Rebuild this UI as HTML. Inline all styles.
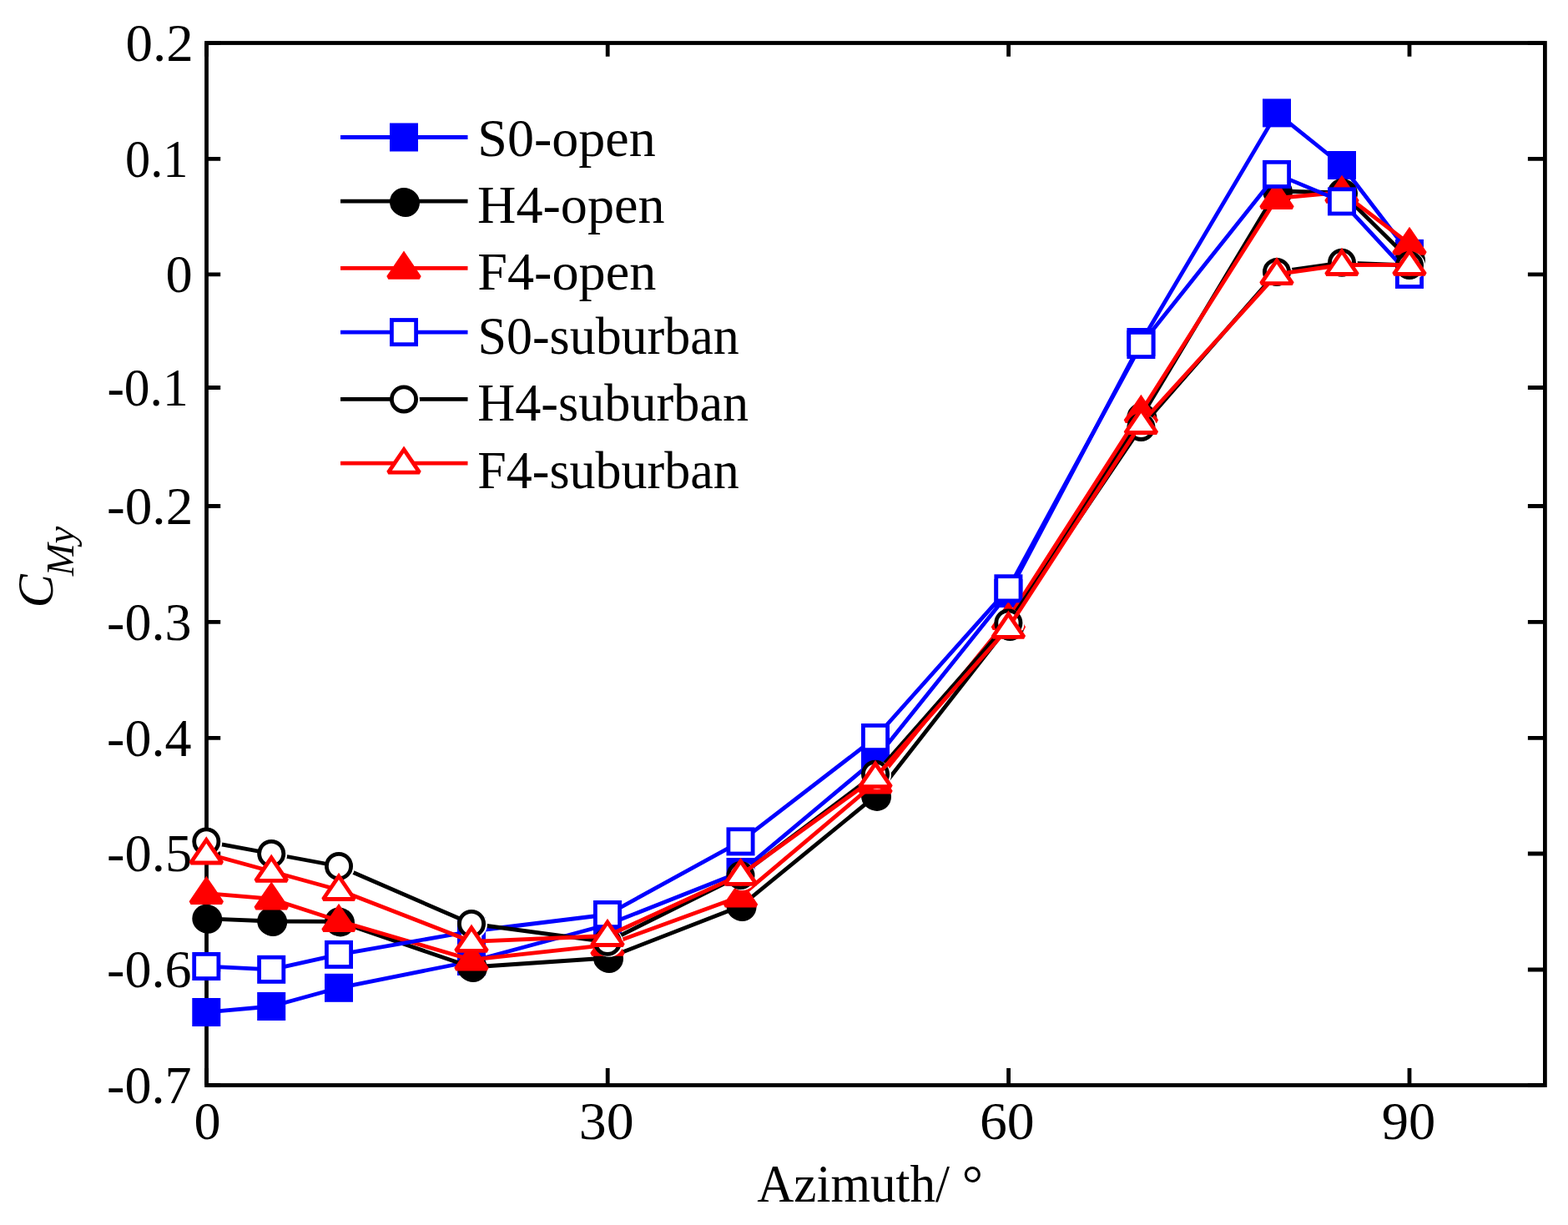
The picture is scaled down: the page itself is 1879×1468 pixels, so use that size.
<!DOCTYPE html>
<html><head><meta charset="utf-8"><title>C_My vs Azimuth</title>
<style>
html,body{margin:0;padding:0;background:#fff;}
svg{display:block;}
text{font-family:"Liberation Serif","Times New Roman",serif;fill:#000;font-kerning:none;}
</style></head><body>
<svg width="1879" height="1468" viewBox="0 0 1879 1468">
<rect x="0" y="0" width="1879" height="1468" fill="#fff"/>

<rect x="247.5" y="51.5" width="1603.90" height="1249.00" fill="none" stroke="#000" stroke-width="4.8" stroke-linejoin="miter"/>
<path d="M247.5 51.5H264.2M1851.4 51.5H1830.9M247.5 190.4H264.2M1851.4 190.4H1830.9M247.5 328.9H264.2M1851.4 328.9H1830.9M247.5 464.5H264.2M1851.4 464.5H1830.9M247.5 606.5H264.2M1851.4 606.5H1830.9M247.5 745.4H264.2M1851.4 745.4H1830.9M247.5 884.4H264.2M1851.4 884.4H1830.9M247.5 1023H264.2M1851.4 1023H1830.9M247.5 1162H264.2M1851.4 1162H1830.9M247.5 1300.5H264.2M1851.4 1300.5H1830.9M247.5 1300.5V1280M247.5 51.5V67.8M728.2 1300.5V1280M728.2 51.5V67.8M1208.6 1300.5V1280M1208.6 51.5V67.8M1689.0 1300.5V1280M1689.0 51.5V67.8" stroke="#000" stroke-width="4.8" fill="none"/>
<text x="150.42" y="72.70" font-size="62.5" textLength="81.26" lengthAdjust="spacingAndGlyphs">0.2</text>
<text x="150.10" y="211.60" font-size="62.5" textLength="75.42" lengthAdjust="spacingAndGlyphs">0.1</text>
<text x="198.55" y="350.10" font-size="62.5" textLength="32.21" lengthAdjust="spacingAndGlyphs">0</text>
<text x="128.42" y="485.70" font-size="62.5" textLength="97.27" lengthAdjust="spacingAndGlyphs">-0.1</text>
<text x="127.98" y="627.70" font-size="62.5" textLength="103.32" lengthAdjust="spacingAndGlyphs">-0.2</text>
<text x="128.12" y="766.60" font-size="62.5" textLength="101.38" lengthAdjust="spacingAndGlyphs">-0.3</text>
<text x="128.13" y="905.60" font-size="62.5" textLength="101.27" lengthAdjust="spacingAndGlyphs">-0.4</text>
<text x="128.11" y="1044.20" font-size="62.5" textLength="102.11" lengthAdjust="spacingAndGlyphs">-0.5</text>
<text x="128.12" y="1183.20" font-size="62.5" textLength="101.49" lengthAdjust="spacingAndGlyphs">-0.6</text>
<text x="128.12" y="1321.70" font-size="62.5" textLength="101.42" lengthAdjust="spacingAndGlyphs">-0.7</text>
<text x="232.46" y="1365.30" font-size="62.5" textLength="32.09" lengthAdjust="spacingAndGlyphs">0</text>
<text x="693.75" y="1365.30" font-size="62.5" textLength="65.86" lengthAdjust="spacingAndGlyphs">30</text>
<text x="1173.98" y="1365.30" font-size="62.5" textLength="65.73" lengthAdjust="spacingAndGlyphs">60</text>
<text x="1655.82" y="1365.30" font-size="62.5" textLength="64.54" lengthAdjust="spacingAndGlyphs">90</text>
<text x="907.20" y="1440.10" font-size="63.5" textLength="230.80" lengthAdjust="spacingAndGlyphs">Azimuth/</text>
<text x="1152.7" y="1439.7" font-size="63">°</text>
<g transform="rotate(-90)">
<text x="-728.24" y="63.30" font-size="61.2" font-style="italic" textLength="39.98" lengthAdjust="spacingAndGlyphs">C</text>
<text x="-690.35" y="88.00" font-size="46" font-style="italic" textLength="59.73" lengthAdjust="spacingAndGlyphs">My</text>
</g>
<polyline points="247.3,1213.0 325.2,1206.0 406.0,1183.8 565.0,1152.0 728.0,1108.0 887.5,1045.0 1049.0,910.0 1208.4,711.0 1367.4,410.0 1530.0,135.4 1608.0,198.0 1689.0,303.9" fill="none" stroke="#0000ff" stroke-width="4.8" stroke-linejoin="round"/>
<rect x="232.70" y="1198.40" width="29.20" height="29.20" fill="#0000ff" stroke="#0000ff" stroke-width="4.8"/>
<rect x="310.60" y="1191.40" width="29.20" height="29.20" fill="#0000ff" stroke="#0000ff" stroke-width="4.8"/>
<rect x="391.40" y="1169.20" width="29.20" height="29.20" fill="#0000ff" stroke="#0000ff" stroke-width="4.8"/>
<rect x="550.40" y="1137.40" width="29.20" height="29.20" fill="#0000ff" stroke="#0000ff" stroke-width="4.8"/>
<rect x="713.40" y="1093.40" width="29.20" height="29.20" fill="#0000ff" stroke="#0000ff" stroke-width="4.8"/>
<rect x="872.90" y="1030.40" width="29.20" height="29.20" fill="#0000ff" stroke="#0000ff" stroke-width="4.8"/>
<rect x="1034.40" y="895.40" width="29.20" height="29.20" fill="#0000ff" stroke="#0000ff" stroke-width="4.8"/>
<rect x="1193.80" y="696.40" width="29.20" height="29.20" fill="#0000ff" stroke="#0000ff" stroke-width="4.8"/>
<rect x="1352.80" y="395.40" width="29.20" height="29.20" fill="#0000ff" stroke="#0000ff" stroke-width="4.8"/>
<rect x="1515.40" y="120.80" width="29.20" height="29.20" fill="#0000ff" stroke="#0000ff" stroke-width="4.8"/>
<rect x="1593.40" y="183.40" width="29.20" height="29.20" fill="#0000ff" stroke="#0000ff" stroke-width="4.8"/>
<rect x="1674.40" y="289.30" width="29.20" height="29.20" fill="#0000ff" stroke="#0000ff" stroke-width="4.8"/>
<polyline points="247.3,1100.8 325.2,1104.0 406.0,1104.4 565.0,1159.0 728.0,1148.0 887.5,1086.0 1049.0,953.9 1208.4,750.0 1367.4,500.0 1530.0,229.0 1608.0,231.0 1689.0,311.0" fill="none" stroke="#000000" stroke-width="4.8" stroke-linejoin="round"/>
<circle cx="249.30" cy="1101.80" r="17.0" fill="#000000"/><circle cx="247.30" cy="1100.80" r="14.6" fill="none" stroke="#000000" stroke-width="4.8"/>
<circle cx="327.20" cy="1105.00" r="17.0" fill="#000000"/><circle cx="325.20" cy="1104.00" r="14.6" fill="none" stroke="#000000" stroke-width="4.8"/>
<circle cx="408.00" cy="1105.40" r="17.0" fill="#000000"/><circle cx="406.00" cy="1104.40" r="14.6" fill="none" stroke="#000000" stroke-width="4.8"/>
<circle cx="567.00" cy="1160.00" r="17.0" fill="#000000"/><circle cx="565.00" cy="1159.00" r="14.6" fill="none" stroke="#000000" stroke-width="4.8"/>
<circle cx="730.00" cy="1149.00" r="17.0" fill="#000000"/><circle cx="728.00" cy="1148.00" r="14.6" fill="none" stroke="#000000" stroke-width="4.8"/>
<circle cx="889.50" cy="1087.00" r="17.0" fill="#000000"/><circle cx="887.50" cy="1086.00" r="14.6" fill="none" stroke="#000000" stroke-width="4.8"/>
<circle cx="1051.00" cy="954.90" r="17.0" fill="#000000"/><circle cx="1049.00" cy="953.90" r="14.6" fill="none" stroke="#000000" stroke-width="4.8"/>
<circle cx="1210.40" cy="751.00" r="17.0" fill="#000000"/><circle cx="1208.40" cy="750.00" r="14.6" fill="none" stroke="#000000" stroke-width="4.8"/>
<circle cx="1369.40" cy="501.00" r="17.0" fill="#000000"/><circle cx="1367.40" cy="500.00" r="14.6" fill="none" stroke="#000000" stroke-width="4.8"/>
<circle cx="1532.00" cy="230.00" r="17.0" fill="#000000"/><circle cx="1530.00" cy="229.00" r="14.6" fill="none" stroke="#000000" stroke-width="4.8"/>
<circle cx="1610.00" cy="232.00" r="17.0" fill="#000000"/><circle cx="1608.00" cy="231.00" r="14.6" fill="none" stroke="#000000" stroke-width="4.8"/>
<circle cx="1691.00" cy="312.00" r="17.0" fill="#000000"/><circle cx="1689.00" cy="311.00" r="14.6" fill="none" stroke="#000000" stroke-width="4.8"/>
<polyline points="247.3,1070.5 325.2,1077.2 406.0,1103.5 565.0,1150.2 728.0,1132.4 887.5,1074.2 1049.0,938.0 1208.4,741.5 1367.4,493.5 1530.0,237.5 1608.0,230.4 1689.0,292.4" fill="none" stroke="#ff0000" stroke-width="4.8" stroke-linejoin="round"/>
<polygon points="247.30,1054.00 266.00,1081.50 228.60,1081.50" fill="#ff0000" stroke="#ff0000" stroke-width="4.8" stroke-linejoin="miter" stroke-miterlimit="2"/>
<polygon points="325.20,1060.70 343.90,1088.20 306.50,1088.20" fill="#ff0000" stroke="#ff0000" stroke-width="4.8" stroke-linejoin="miter" stroke-miterlimit="2"/>
<polygon points="406.00,1087.00 424.70,1114.50 387.30,1114.50" fill="#ff0000" stroke="#ff0000" stroke-width="4.8" stroke-linejoin="miter" stroke-miterlimit="2"/>
<polygon points="565.00,1133.70 583.70,1161.20 546.30,1161.20" fill="#ff0000" stroke="#ff0000" stroke-width="4.8" stroke-linejoin="miter" stroke-miterlimit="2"/>
<polygon points="728.00,1115.90 746.70,1143.40 709.30,1143.40" fill="#ff0000" stroke="#ff0000" stroke-width="4.8" stroke-linejoin="miter" stroke-miterlimit="2"/>
<polygon points="887.50,1057.70 906.20,1085.20 868.80,1085.20" fill="#ff0000" stroke="#ff0000" stroke-width="4.8" stroke-linejoin="miter" stroke-miterlimit="2"/>
<polygon points="1049.00,921.50 1067.70,949.00 1030.30,949.00" fill="#ff0000" stroke="#ff0000" stroke-width="4.8" stroke-linejoin="miter" stroke-miterlimit="2"/>
<polygon points="1208.40,725.00 1227.10,752.50 1189.70,752.50" fill="#ff0000" stroke="#ff0000" stroke-width="4.8" stroke-linejoin="miter" stroke-miterlimit="2"/>
<polygon points="1367.40,477.00 1386.10,504.50 1348.70,504.50" fill="#ff0000" stroke="#ff0000" stroke-width="4.8" stroke-linejoin="miter" stroke-miterlimit="2"/>
<polygon points="1530.00,221.00 1548.70,248.50 1511.30,248.50" fill="#ff0000" stroke="#ff0000" stroke-width="4.8" stroke-linejoin="miter" stroke-miterlimit="2"/>
<polygon points="1608.00,213.90 1626.70,241.40 1589.30,241.40" fill="#ff0000" stroke="#ff0000" stroke-width="4.8" stroke-linejoin="miter" stroke-miterlimit="2"/>
<polygon points="1689.00,275.90 1707.70,303.40 1670.30,303.40" fill="#ff0000" stroke="#ff0000" stroke-width="4.8" stroke-linejoin="miter" stroke-miterlimit="2"/>
<polyline points="247.3,1158.0 325.2,1161.8 406.0,1143.9 565.0,1116.0 728.0,1096.0 887.5,1008.4 1049.0,884.0 1208.4,705.3 1367.4,413.0 1530.0,208.9 1608.0,241.4 1689.0,328.9" fill="none" stroke="#0000ff" stroke-width="4.8" stroke-linejoin="round"/>
<rect x="232.70" y="1143.40" width="29.20" height="29.20" fill="#ffffff" stroke="#0000ff" stroke-width="4.8"/>
<rect x="310.60" y="1147.20" width="29.20" height="29.20" fill="#ffffff" stroke="#0000ff" stroke-width="4.8"/>
<rect x="391.40" y="1129.30" width="29.20" height="29.20" fill="#ffffff" stroke="#0000ff" stroke-width="4.8"/>
<rect x="550.40" y="1101.40" width="29.20" height="29.20" fill="#ffffff" stroke="#0000ff" stroke-width="4.8"/>
<rect x="713.40" y="1081.40" width="29.20" height="29.20" fill="#ffffff" stroke="#0000ff" stroke-width="4.8"/>
<rect x="872.90" y="993.80" width="29.20" height="29.20" fill="#ffffff" stroke="#0000ff" stroke-width="4.8"/>
<rect x="1034.40" y="869.40" width="29.20" height="29.20" fill="#ffffff" stroke="#0000ff" stroke-width="4.8"/>
<rect x="1193.80" y="690.70" width="29.20" height="29.20" fill="#ffffff" stroke="#0000ff" stroke-width="4.8"/>
<rect x="1352.80" y="398.40" width="29.20" height="29.20" fill="#ffffff" stroke="#0000ff" stroke-width="4.8"/>
<rect x="1515.40" y="194.30" width="29.20" height="29.20" fill="#ffffff" stroke="#0000ff" stroke-width="4.8"/>
<rect x="1593.40" y="226.80" width="29.20" height="29.20" fill="#ffffff" stroke="#0000ff" stroke-width="4.8"/>
<rect x="1674.40" y="314.30" width="29.20" height="29.20" fill="#ffffff" stroke="#0000ff" stroke-width="4.8"/>
<polyline points="247.3,1008.5 325.2,1023.0 406.0,1038.0 565.0,1107.0 728.0,1128.8 887.5,1049.0 1049.0,927.7 1208.4,746.5 1367.4,511.9 1530.0,326.0 1608.0,314.8 1689.0,318.0" fill="none" stroke="#000000" stroke-width="4.8" stroke-linejoin="round"/>
<circle cx="249.30" cy="1009.50" r="17.0" fill="#ffffff"/><circle cx="247.30" cy="1008.50" r="14.6" fill="none" stroke="#000000" stroke-width="4.8"/>
<circle cx="327.20" cy="1024.00" r="17.0" fill="#ffffff"/><circle cx="325.20" cy="1023.00" r="14.6" fill="none" stroke="#000000" stroke-width="4.8"/>
<circle cx="408.00" cy="1039.00" r="17.0" fill="#ffffff"/><circle cx="406.00" cy="1038.00" r="14.6" fill="none" stroke="#000000" stroke-width="4.8"/>
<circle cx="567.00" cy="1108.00" r="17.0" fill="#ffffff"/><circle cx="565.00" cy="1107.00" r="14.6" fill="none" stroke="#000000" stroke-width="4.8"/>
<circle cx="730.00" cy="1129.80" r="17.0" fill="#ffffff"/><circle cx="728.00" cy="1128.80" r="14.6" fill="none" stroke="#000000" stroke-width="4.8"/>
<circle cx="889.50" cy="1050.00" r="17.0" fill="#ffffff"/><circle cx="887.50" cy="1049.00" r="14.6" fill="none" stroke="#000000" stroke-width="4.8"/>
<circle cx="1051.00" cy="928.70" r="17.0" fill="#ffffff"/><circle cx="1049.00" cy="927.70" r="14.6" fill="none" stroke="#000000" stroke-width="4.8"/>
<circle cx="1210.40" cy="747.50" r="17.0" fill="#ffffff"/><circle cx="1208.40" cy="746.50" r="14.6" fill="none" stroke="#000000" stroke-width="4.8"/>
<circle cx="1369.40" cy="512.90" r="17.0" fill="#ffffff"/><circle cx="1367.40" cy="511.90" r="14.6" fill="none" stroke="#000000" stroke-width="4.8"/>
<circle cx="1532.00" cy="327.00" r="17.0" fill="#ffffff"/><circle cx="1530.00" cy="326.00" r="14.6" fill="none" stroke="#000000" stroke-width="4.8"/>
<circle cx="1610.00" cy="315.80" r="17.0" fill="#ffffff"/><circle cx="1608.00" cy="314.80" r="14.6" fill="none" stroke="#000000" stroke-width="4.8"/>
<circle cx="1691.00" cy="319.00" r="17.0" fill="#ffffff"/><circle cx="1689.00" cy="318.00" r="14.6" fill="none" stroke="#000000" stroke-width="4.8"/>
<polyline points="247.3,1023.0 325.2,1044.3 406.0,1066.5 565.0,1128.3 728.0,1121.5 887.5,1048.4 1049.0,931.6 1208.4,752.3 1367.4,507.5 1530.0,328.7 1608.0,317.5 1689.0,317.4" fill="none" stroke="#ff0000" stroke-width="4.8" stroke-linejoin="round"/>
<polygon points="247.30,1006.50 266.00,1034.00 228.60,1034.00" fill="#ffffff" stroke="#ff0000" stroke-width="4.8" stroke-linejoin="miter" stroke-miterlimit="2"/>
<polygon points="325.20,1027.80 343.90,1055.30 306.50,1055.30" fill="#ffffff" stroke="#ff0000" stroke-width="4.8" stroke-linejoin="miter" stroke-miterlimit="2"/>
<polygon points="406.00,1050.00 424.70,1077.50 387.30,1077.50" fill="#ffffff" stroke="#ff0000" stroke-width="4.8" stroke-linejoin="miter" stroke-miterlimit="2"/>
<polygon points="565.00,1111.80 583.70,1139.30 546.30,1139.30" fill="#ffffff" stroke="#ff0000" stroke-width="4.8" stroke-linejoin="miter" stroke-miterlimit="2"/>
<polygon points="728.00,1105.00 746.70,1132.50 709.30,1132.50" fill="#ffffff" stroke="#ff0000" stroke-width="4.8" stroke-linejoin="miter" stroke-miterlimit="2"/>
<polygon points="887.50,1031.90 906.20,1059.40 868.80,1059.40" fill="#ffffff" stroke="#ff0000" stroke-width="4.8" stroke-linejoin="miter" stroke-miterlimit="2"/>
<polygon points="1049.00,915.10 1067.70,942.60 1030.30,942.60" fill="#ffffff" stroke="#ff0000" stroke-width="4.8" stroke-linejoin="miter" stroke-miterlimit="2"/>
<polygon points="1208.40,735.80 1227.10,763.30 1189.70,763.30" fill="#ffffff" stroke="#ff0000" stroke-width="4.8" stroke-linejoin="miter" stroke-miterlimit="2"/>
<polygon points="1367.40,491.00 1386.10,518.50 1348.70,518.50" fill="#ffffff" stroke="#ff0000" stroke-width="4.8" stroke-linejoin="miter" stroke-miterlimit="2"/>
<polygon points="1530.00,312.20 1548.70,339.70 1511.30,339.70" fill="#ffffff" stroke="#ff0000" stroke-width="4.8" stroke-linejoin="miter" stroke-miterlimit="2"/>
<polygon points="1608.00,301.00 1626.70,328.50 1589.30,328.50" fill="#ffffff" stroke="#ff0000" stroke-width="4.8" stroke-linejoin="miter" stroke-miterlimit="2"/>
<polygon points="1689.00,300.90 1707.70,328.40 1670.30,328.40" fill="#ffffff" stroke="#ff0000" stroke-width="4.8" stroke-linejoin="miter" stroke-miterlimit="2"/>
<line x1="408" y1="164.5" x2="560.5" y2="164.5" stroke="#0000ff" stroke-width="4.8"/>
<rect x="469.40" y="149.90" width="29.20" height="29.20" fill="#0000ff" stroke="#0000ff" stroke-width="4.8"/>
<text x="572.32" y="187.20" font-size="62.8" textLength="213.45" lengthAdjust="spacingAndGlyphs">S0-open</text>
<line x1="408" y1="241.1" x2="560.5" y2="241.1" stroke="#000000" stroke-width="4.8"/>
<circle cx="486.00" cy="243.00" r="17.0" fill="#000000"/><circle cx="484.00" cy="242.00" r="14.6" fill="none" stroke="#000000" stroke-width="4.8"/>
<text x="572.05" y="267.10" font-size="62.8" textLength="224.52" lengthAdjust="spacingAndGlyphs">H4-open</text>
<line x1="408" y1="321.3" x2="560.5" y2="321.3" stroke="#ff0000" stroke-width="4.8"/>
<polygon points="484.00,304.80 502.70,332.30 465.30,332.30" fill="#ff0000" stroke="#ff0000" stroke-width="4.8" stroke-linejoin="miter" stroke-miterlimit="2"/>
<text x="572.25" y="346.80" font-size="62.8" textLength="214.02" lengthAdjust="spacingAndGlyphs">F4-open</text>
<line x1="408" y1="398.1" x2="560.5" y2="398.1" stroke="#0000ff" stroke-width="4.8"/>
<rect x="469.40" y="383.50" width="29.20" height="29.20" fill="#ffffff" stroke="#0000ff" stroke-width="4.8"/>
<text x="572.45" y="424.20" font-size="62.8" textLength="313.28" lengthAdjust="spacingAndGlyphs">S0-suburban</text>
<line x1="408" y1="478.4" x2="560.5" y2="478.4" stroke="#000000" stroke-width="4.8"/>
<circle cx="486.00" cy="479.40" r="17.0" fill="#ffffff"/><circle cx="484.00" cy="478.40" r="14.6" fill="none" stroke="#000000" stroke-width="4.8"/>
<text x="572.31" y="503.80" font-size="62.8" textLength="324.83" lengthAdjust="spacingAndGlyphs">H4-suburban</text>
<line x1="408" y1="555.2" x2="560.5" y2="555.2" stroke="#ff0000" stroke-width="4.8"/>
<polygon points="484.00,538.70 502.70,566.20 465.30,566.20" fill="#ffffff" stroke="#ff0000" stroke-width="4.8" stroke-linejoin="miter" stroke-miterlimit="2"/>
<text x="572.31" y="584.70" font-size="62.8" textLength="313.42" lengthAdjust="spacingAndGlyphs">F4-suburban</text>
</svg></body></html>
